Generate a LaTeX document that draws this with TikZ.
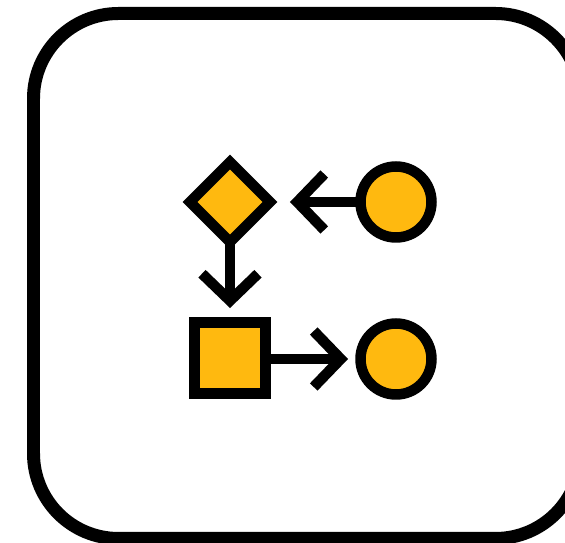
\documentclass[tikz,border=0pt]{standalone}
\usetikzlibrary{arrows.meta,shapes.geometric}
\definecolor{ambergold}{HTML}{FFB90F}
\tikzset{
  glyph/.style={draw=black,fill=ambergold,line width=0.21cm,inner sep=0pt,outer sep=0pt},
  flow/.style={line width=0.21cm,-{Straight Barb[length=0.54cm,width=1.12cm]}},
}
\begin{document}
\begin{tikzpicture}[x=0.02cm,y=-0.02cm]
\def\XMAX{565};\def\YMAX{543};
\useasboundingbox (0,0) rectangle (\XMAX,\YMAX);
\clip (0,0) rectangle (\XMAX,\YMAX);
\fill[white] (0,0) rectangle (\XMAX,\YMAX);
\draw[line width=0.26cm,rounded corners=1.7cm] (33.5,13.5) rectangle (580.5,538.5);
\node[glyph,diamond,aspect=1,minimum size=1.6cm] (choice) at (230,202) {};
\node[glyph,rectangle,minimum size=1.42cm] (task) at (230,358) {};
\node[glyph,circle,minimum size=1.42cm] (start) at (396,202) {};
\node[glyph,circle,minimum size=1.42cm] (end) at (396,359) {};
\draw[flow,shorten >=0.4cm] (start)--(choice);
\draw[flow,shorten >=0.29cm] (choice)--(task);
\draw[flow,shorten >=0.25cm] (task.east|-end)--(end);
\end{tikzpicture}
\end{document}
